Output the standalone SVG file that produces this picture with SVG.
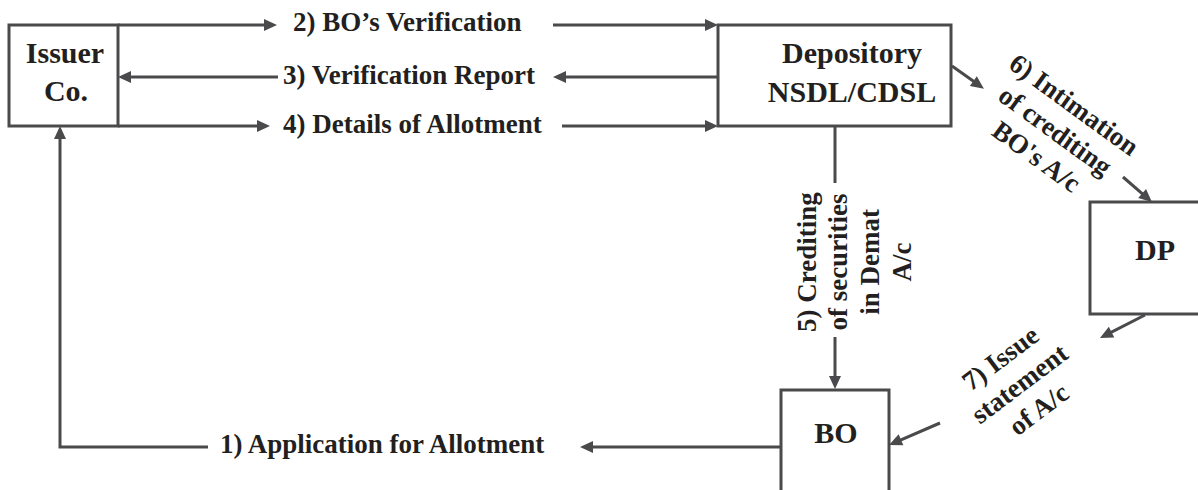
<svg xmlns="http://www.w3.org/2000/svg" width="1198" height="490" viewBox="0 0 1198 490">
  <style>
    .box{fill:#fff;stroke:#4a4a4c;stroke-width:3}
    .ln{fill:none;stroke:#4a4a4c;stroke-width:3}
    .arr{marker-end:url(#ah)}
    .t{font-family:'Liberation Serif','Times New Roman',serif;font-weight:bold;fill:#231f20}
    .nt{font-size:30px;text-anchor:middle}
    .lb{font-size:27px}
    .lm{font-size:27px;text-anchor:middle}
  </style>
  <defs>
    <marker id="ah" markerUnits="userSpaceOnUse" markerWidth="13" markerHeight="12" refX="5" refY="6" orient="auto" overflow="visible">
      <path d="M0,0 L13,6 L0,12 z" fill="#4a4a4c"/>
    </marker>
  </defs>
  <rect width="1198" height="490" fill="#fff"/>

  <g id="connectors">
    <path class="ln arr" d="M118,25 H269"/>
    <path class="ln arr" d="M553,25 H710"/>
    <path class="ln arr" d="M278,77 H126"/>
    <path class="ln arr" d="M718,77 H561"/>
    <path class="ln arr" d="M118,126 H262"/>
    <path class="ln arr" d="M562,126 H710"/>
    <path class="ln arr" d="M208,447 H60 V134"/>
    <path class="ln arr" d="M781,447 H588"/>
    <path class="ln" d="M835,126 V183"/>
    <path class="ln arr" d="M835,337 V381"/>
    <path class="ln arr" d="M952,66 L977.4,84"/>
    <path class="ln arr" d="M1123,177 L1145.9,196.8"/>
    <path class="ln arr" d="M1145,315 L1107.1,334.4"/>
    <path class="ln arr" d="M940,423 L896.4,441.8"/>
  </g>

  <g id="issuer">
    <rect class="box" x="9" y="25" width="109" height="101"/>
    <text class="t nt" x="65" y="63">Issuer</text>
    <text class="t nt" x="66" y="101">Co.</text>
  </g>
  <g id="depository">
    <rect class="box" x="718" y="25" width="233" height="101"/>
    <text class="t nt" x="852" y="63">Depository</text>
    <text class="t nt" x="852" y="102">NSDL/CDSL</text>
  </g>
  <g id="dp">
    <rect class="box" x="1090" y="202" width="130" height="112"/>
    <text class="t nt" x="1155" y="260">DP</text>
  </g>
  <g id="bo">
    <rect class="box" x="781" y="390" width="108" height="120"/>
    <text class="t nt" x="836" y="443">BO</text>
  </g>

  <g id="labels">
    <text class="t lb" x="293" y="31">2) BO’s Verification</text>
    <text class="t lb" x="283" y="84">3) Verification Report</text>
    <text class="t lb" x="283" y="133">4) Details of Allotment</text>
    <text class="t lb" x="220" y="453">1) Application for Allotment</text>
    <g transform="rotate(-90)">
      <text class="t lm" x="-262" y="816">5) Crediting</text>
      <text class="t lm" x="-262" y="847">of securities</text>
      <text class="t lm" x="-262" y="879">in Demat</text>
      <text class="t lm" x="-262" y="911">A/c</text>
    </g>
    <g transform="translate(1050,138) rotate(36)">
      <text class="t lm" x="0" y="-32">6) Intimation</text>
      <text class="t lm" x="0" y="0">of crediting</text>
      <text class="t lm" x="0" y="32">BO's A/c</text>
    </g>
    <g transform="translate(1025,391) rotate(-37)">
      <text class="t lm" x="0" y="-32">7) Issue</text>
      <text class="t lm" x="0" y="0">statement</text>
      <text class="t lm" x="0" y="32">of A/c</text>
    </g>
  </g>
</svg>
